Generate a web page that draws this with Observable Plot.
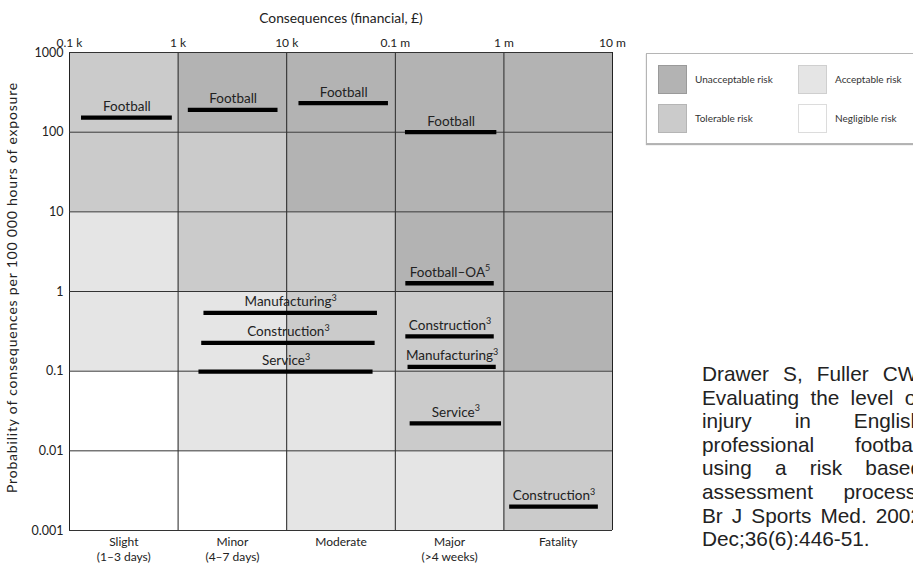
<!DOCTYPE html>
<html><head><meta charset="utf-8">
<script src="https://cdn.jsdelivr.net/npm/d3@7"></script>
<script src="https://cdn.jsdelivr.net/npm/@observablehq/plot@0.6"></script>
<style>
html,body{margin:0;padding:0;background:#fff;overflow:hidden;width:913px;height:563px;}
#chart{position:absolute;left:0;top:0;}
#legend{position:absolute;left:646px;top:53px;width:320px;height:89px;border:1px solid #b5b5b5;box-shadow:0 1px 1px rgba(0,0,0,0.3);background:#fff;font-family:Lato,sans-serif;font-size:10px;color:#333;}
#legend .grid{position:absolute;left:11px;top:10px;display:grid;grid-template-rows:30px 30px;grid-template-columns:140px 140px;row-gap:9.4px;grid-auto-flow:column;}
#legend .item{display:flex;align-items:center;}
#legend .sw{width:29px;height:29px;border:1px solid #aaa;margin-right:8px;box-sizing:border-box;}
#cite{position:absolute;left:702px;top:362px;width:220px;font-family:"Liberation Sans",Arial,sans-serif;font-size:20.8px;line-height:23.6px;color:#222;}
#cite div{text-align:justify;text-align-last:justify;white-space:nowrap;}
#cite div:last-child{text-align-last:left;}
.ytitle text{letter-spacing:0.8px;}
</style></head><body>
<div id="chart"></div>
<div id="legend"></div>
<div id="cite"></div>
<script>
// ---- data ----
const severityLabels = ["Slight\n(1–3 days)", "Minor\n(4–7 days)", "Moderate", "Major\n(>4 weeks)", "Fatality"];
const costBounds = [1e2, 1e3, 1e4, 1e5, 1e6, 1e7];
const costLabels = ["0.1 k", "1 k", "10 k", "0.1 m", "1 m", "10 m"];
const probBounds = [1000, 100, 10, 1, 0.1, 0.01, 0.001];
const probLabels = ["1000", "100", "10", "1", "0.1", "0.01", "0.001"];
const riskLevels = ["Unacceptable risk", "Tolerable risk", "Acceptable risk", "Negligible risk"];
const riskCodes = ["U", "T", "A", "N"];
const riskColors = ["#b3b3b3", "#cbcbcb", "#e5e5e5", "#ffffff"];
const riskBorders = ["#9a9a9a", "#b5b5b5", "#cfcfcf", "#dcdcdc"];
// rows from top (100–1000) to bottom (0.001–0.01); columns Slight..Fatality
const riskMatrix = [
  ["T", "U", "U", "U", "U"],
  ["T", "T", "U", "U", "U"],
  ["A", "T", "T", "U", "U"],
  ["A", "A", "T", "T", "U"],
  ["N", "A", "A", "T", "T"],
  ["N", "N", "A", "A", "T"]
];
const barLabels = ["Football", "Football", "Football", "Football", "Football–OA⁵",
  "Manufacturing³", "Construction³", "Service³",
  "Construction³", "Manufacturing³", "Service³", "Construction³"];
const barFrom = [129, 1242, 12970, 124000, 125000, 1730, 1650, 1556, 125000, 131000, 137000, 1130000];
const barTo   = [885, 8320, 86500, 861000, 815000, 68500, 65200, 62400, 815000, 850000, 951000, 7410000];
const barProb = [152, 190, 231, 100, 1.27, 0.54, 0.226, 0.0989, 0.274, 0.113, 0.0221, 0.00199];
const xTitle = "Consequences (financial, £)";
const yTitle = "Probability of consequences per 100 000 hours of exposure";
const citationLines = ["Drawer S, Fuller CW.", "Evaluating the level of", "injury in English",
  "professional football", "using a risk based", "assessment process.", "Br J Sports Med. 2002", "Dec;36(6):446-51."];

// ---- derived tables ----
const cells = [];
riskMatrix.forEach((row, i) => row.forEach((code, j) => cells.push({
  x1: costBounds[j], x2: costBounds[j + 1], y1: probBounds[i + 1], y2: probBounds[i],
  risk: riskLevels[riskCodes.indexOf(code)]
})));
const bars = barLabels.map((label, i) => ({label, from: barFrom[i], to: barTo[i], p: barProb[i]}));
const columns = severityLabels.map((label, j) => ({label, x: Math.sqrt(costBounds[j] * costBounds[j + 1])}));

const chart = Plot.plot({
  width: 913, height: 563,
  marginLeft: 69, marginRight: 301, marginTop: 52, marginBottom: 33,
  style: {fontFamily: "Lato, sans-serif", fontSize: "12px", color: "#222", background: "transparent", overflow: "visible"},
  x: {type: "log", domain: [1e2, 1e7], axis: null},
  y: {type: "log", domain: [1e-3, 1e3], axis: null},
  color: {domain: riskLevels, range: riskColors},
  marks: [
    Plot.rect(cells, {x1: "x1", x2: "x2", y1: "y1", y2: "y2", fill: "risk"}),
    Plot.ruleX(costBounds, {stroke: "#222", strokeWidth: 1}),
    Plot.ruleY(probBounds, {stroke: "#333", strokeWidth: 1}),
    Plot.ruleY(bars, {x1: "from", x2: "to", y: "p", stroke: "#000", strokeWidth: 4.3}),
    Plot.text(bars, {x: d => Math.sqrt(d.from * d.to), y: "p", text: "label", lineAnchor: "bottom", dy: -6.5, fontSize: 13.5, fill: "#222", className: "barlabel"}),
    Plot.axisX({anchor: "top", ticks: costBounds, tickFormat: d => costLabels[costBounds.indexOf(d)], tickSize: 0, tickPadding: 6, label: null, fontSize: 12}),
    Plot.text(columns, {x: "x", frameAnchor: "bottom", text: "label", lineAnchor: "top", dy: 5, fontSize: 12, lineHeight: 1.22, fill: "#222"}),
    Plot.axisY({ticks: probBounds, tickFormat: d => probLabels[probBounds.indexOf(d)], tickSize: 0, tickPadding: 6, label: null, fontSize: 12.5}),
    Plot.text([xTitle], {frameAnchor: "top", dy: -30, lineAnchor: "bottom", text: d => d, fontSize: 13.8}),
    Plot.text([yTitle], {frameAnchor: "left", dx: -57, dy: -4, rotate: -90, textAnchor: "middle", text: d => d, fontSize: 14, fill: "#222", className: "ytitle"})
  ]
});
document.getElementById("chart").appendChild(chart);

// superscripts as raised small digits
const supMap = {"³": "3", "⁵": "5"};
chart.querySelectorAll("g.barlabel text").forEach(t => {
  const s = t.textContent;
  const last = s.slice(-1);
  if (supMap[last]) {
    t.textContent = s.slice(0, -1);
    const ts = document.createElementNS("http://www.w3.org/2000/svg", "tspan");
    ts.setAttribute("font-size", "9");
    ts.setAttribute("dy", "-5.5");
    ts.textContent = supMap[last];
    t.appendChild(ts);
  }
});

// legend
const lg = document.getElementById("legend");
const grid = document.createElement("div");
grid.className = "grid";
riskLevels.forEach((lvl, i) => {
  const it = document.createElement("div");
  it.className = "item";
  const sw = document.createElement("div");
  sw.className = "sw";
  sw.style.background = riskColors[i];
  sw.style.borderColor = riskBorders[i];
  const tx = document.createElement("span");
  tx.textContent = lvl;
  it.appendChild(sw); it.appendChild(tx);
  grid.appendChild(it);
});
lg.appendChild(grid);

// citation
const cite = document.getElementById("cite");
citationLines.forEach(l => { const d = document.createElement("div"); d.textContent = l; cite.appendChild(d); });
</script>
</body></html>
